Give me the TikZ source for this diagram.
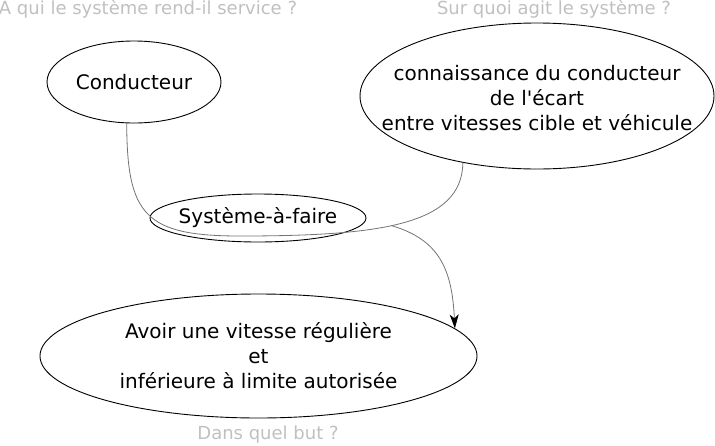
\documentclass[tikz,border=0pt]{standalone}
\usepackage{fontspec}
\setmainfont{DejaVu Sans}
\usetikzlibrary{shapes.geometric,arrows.meta}
\definecolor{qgrey}{RGB}{192,192,192}
\definecolor{lgrey}{RGB}{115,115,115}
\newcommand\straightq{\XeTeXglyph\XeTeXglyphindex "quotesingle"\relax}
\begin{document}
\begin{tikzpicture}[x=1pt,y=-1pt,
  blob/.style={ellipse, draw=black, line width=0.9pt, inner sep=0pt},
  blobtext/.style={align=center, inner sep=0pt, font=\fontsize{20}{25}\selectfont},
  qlabel/.style={text=qgrey, inner sep=0pt, font=\fontsize{18}{22}\selectfont},
  link/.style={draw=lgrey, line width=0.8pt}]
\useasboundingbox (0,0) rectangle (715,445);
\node[qlabel] (q1) at (148,9) {A qui le système rend-il service ?};
\node[qlabel] (q2) at (554,9) {Sur quoi agit le système ?};
\node[qlabel] (q3) at (268,435) {Dans quel but ?};
\node[blob, minimum width=174pt, minimum height=82pt,
  label={[blobtext]center:Conducteur}] (cond) at (134,82) {};
\node[blob, minimum width=354pt, minimum height=146pt,
  label={[blobtext, yshift=-2pt]center:{connaissance du conducteur\\de l\straightq écart\\entre vitesses cible et véhicule}}] (conn) at (537,96) {};
\node[blob, minimum width=216pt, minimum height=48pt,
  label={[blobtext]center:Système-à-faire}] (sys) at (258,218) {};
\node[blob, minimum width=437pt, minimum height=124pt,
  label={[blobtext]center:{Avoir une vitesse régulière\\et\\inférieure à limite autorisée}}] (but) at (258.5,356) {};
\draw[link] (cond.260) .. controls (127,215) and (145,236) .. (240,236)
  .. controls (380,236) and (462,225) .. coordinate[pos=0.45] (j) (conn.222);
\draw[link, -{Stealth[length=14pt,width=9pt,inset=4pt,black]}] (j) .. controls (440,240) and (452,270) .. (but.8.3);
\end{tikzpicture}
\end{document}
